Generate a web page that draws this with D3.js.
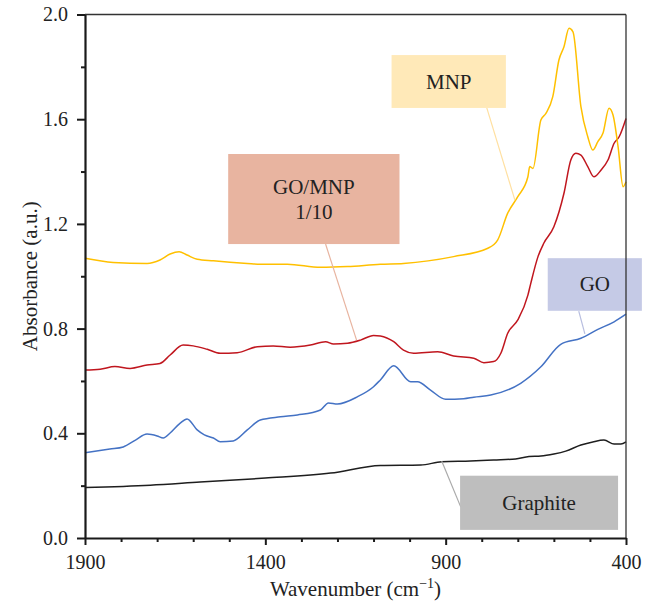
<!DOCTYPE html>
<html>
<head>
<meta charset="utf-8">
<script src="https://cdn.jsdelivr.net/npm/d3@7"></script>
<style>
  body { margin: 0; background: #ffffff; }
  svg text { font-family: "Liberation Serif", "DejaVu Serif", serif !important; fill: #222; }
</style>
</head>
<body>
<svg id="chart" width="654" height="603" style="font-family: 'Liberation Serif', serif"></svg>
<script>
// FTIR spectra: wavenumber (cm^-1) and absorbance (a.u.) per sample
const graphiteWave = [1900,1719,1581,1400,1219,1081,969,911,831,767,706,669,636,600,567,525,492,461,433,414,400];
const graphiteAbs  = [0.193,0.202,0.214,0.229,0.248,0.277,0.279,0.291,0.294,0.298,0.302,0.311,0.313,0.321,0.332,0.355,0.367,0.374,0.359,0.359,0.367];

const goWave = [1900,1831,1794,1760,1728,1700,1683,1664,1636,1617,1589,1569,1544,1525,1489,1450,1414,1358,1311,1247,1225,1200,1144,1100,1081,1044,997,978,942,900,850,822,775,692,636,581,525,478,433,400];
const goAbs  = [0.326,0.340,0.348,0.374,0.397,0.390,0.382,0.401,0.439,0.455,0.413,0.394,0.382,0.368,0.371,0.413,0.451,0.463,0.470,0.489,0.516,0.512,0.540,0.578,0.604,0.658,0.597,0.597,0.565,0.530,0.532,0.538,0.546,0.591,0.654,0.740,0.763,0.797,0.826,0.855];

const goMnpWave = [1900,1858,1817,1775,1728,1692,1664,1628,1600,1561,1525,1478,1422,1378,1331,1275,1233,1211,1172,1136,1100,1081,1044,1017,989,922,878,822,794,767,747,728,700,672,664,644,628,600,572,553,539,525,506,489,469,450,433,419,400];
const goMnpAbs  = [0.642,0.645,0.655,0.648,0.661,0.667,0.699,0.737,0.734,0.721,0.706,0.708,0.731,0.734,0.729,0.737,0.750,0.741,0.744,0.756,0.774,0.772,0.750,0.718,0.706,0.712,0.695,0.687,0.670,0.674,0.706,0.782,0.833,0.928,0.973,1.075,1.126,1.189,1.317,1.444,1.470,1.463,1.419,1.380,1.406,1.444,1.508,1.533,1.603];

const mnpWave = [1900,1822,1728,1692,1664,1639,1617,1589,1544,1450,1414,1339,1247,1172,1081,1017,878,783,756,728,700,672,667,658,636,622,603,586,572,558,547,525,506,492,478,464,447,436,422,408,400];
const mnpAbs  = [1.069,1.053,1.049,1.062,1.085,1.094,1.081,1.065,1.059,1.049,1.046,1.046,1.034,1.037,1.046,1.049,1.075,1.107,1.138,1.241,1.304,1.380,1.419,1.412,1.597,1.622,1.686,1.826,1.877,1.947,1.934,1.648,1.533,1.482,1.514,1.546,1.642,1.616,1.495,1.342,1.361];

const xMajorTicks = [1900, 1400, 900, 400];
const xMinorTicks = [1800,1700,1600,1500,1300,1200,1100,1000,800,700,600,500];
const yMajorTicks = [0, 0.4, 0.8, 1.2, 1.6, 2.0];
const yMinorTicks = [0.2, 0.6, 1.0, 1.4, 1.8];

const series = [
  { name: "Graphite", wave: graphiteWave, abs: graphiteAbs, color: "#1e1e1e" },
  { name: "GO",       wave: goWave,       abs: goAbs,       color: "#4472c4" },
  { name: "GO/MNP",   wave: goMnpWave,    abs: goMnpAbs,    color: "#c0161e" },
  { name: "MNP",      wave: mnpWave,      abs: mnpAbs,      color: "#ffc000" }
];

// Callout boxes, placed in data units: [wave left, wave right, abs top, abs bottom]
const callouts = [
  { lines: ["MNP"],            box: [1050, 733, 1.845, 1.643], leader: [[786, 1.643], [708, 1.291]], fill: "#ffe9b8", stroke: "#ffe0a0" },
  { lines: ["GO/MNP", "1/10"], box: [1503, 1028, 1.467, 1.123], leader: [[1233, 1.123], [1147, 0.756]], fill: "#e8b4a0", stroke: "#e8b4a0" },
  { lines: ["GO"],             box: [617, 356, 1.069, 0.868], leader: [[531, 0.867], [514, 0.780]], fill: "#c5cae6", stroke: "#b8bee0" },
  { lines: ["Graphite"],       box: [860, 422, 0.238, 0.031], leader: [[911, 0.294], [858, 0.118]], fill: "#bebebe", stroke: "#aaaaaa" }
];

const FONT = "'Liberation Serif', 'DejaVu Serif', serif";
const svg = d3.select("#chart");
const plotLeft = 85, plotRight = 626, plotTop = 14.5, plotBottom = 538;

const x = d3.scaleLinear().domain([1900, 400]).range([plotLeft, plotRight]);
const y = d3.scaleLinear().domain([0, 2]).range([plotBottom, plotTop]);

// spectra
const line = d3.line()
  .x(d => x(d[0]))
  .y(d => y(d[1]))
  .curve(d3.curveMonotoneX);

svg.append("g").selectAll("path")
  .data(series)
  .join("path")
  .attr("d", s => line(s.wave.map((w, i) => [w, s.abs[i]])))
  .attr("fill", "none")
  .attr("stroke", s => s.color)
  .attr("stroke-width", 1.5)
  .attr("stroke-linejoin", "round");

// callouts: leader lines, boxes, text
const cg = svg.append("g");
cg.selectAll("line")
  .data(callouts)
  .join("line")
  .attr("x1", c => x(c.leader[0][0])).attr("y1", c => y(c.leader[0][1]))
  .attr("x2", c => x(c.leader[1][0])).attr("y2", c => y(c.leader[1][1]))
  .attr("stroke", c => c.stroke)
  .attr("stroke-width", 1.2);

cg.selectAll("rect")
  .data(callouts)
  .join("rect")
  .attr("x", c => x(c.box[0]))
  .attr("y", c => y(c.box[2]))
  .attr("width", c => x(c.box[1]) - x(c.box[0]))
  .attr("height", c => y(c.box[3]) - y(c.box[2]))
  .attr("fill", c => c.fill);

cg.selectAll("text.callout")
  .data(callouts)
  .join("text")
  .attr("class", "callout")
  .attr("text-anchor", "middle")
  .attr("font-family", FONT)
  .attr("font-size", 21)
  .each(function (c) {
    const cx = (x(c.box[0]) + x(c.box[1])) / 2;
    const cy = (y(c.box[2]) + y(c.box[3])) / 2;
    const n = c.lines.length;
    const lh = 25;
    d3.select(this).selectAll("tspan")
      .data(c.lines)
      .join("tspan")
      .attr("x", cx)
      .attr("y", (d, i) => cy + (i - (n - 1) / 2) * lh + 7)
      .text(d => d);
  });

// frame top and right
svg.append("line")
  .attr("x1", plotLeft).attr("x2", plotRight).attr("y1", plotTop).attr("y2", plotTop)
  .attr("stroke", "#333").attr("stroke-width", 1.3);
svg.append("line")
  .attr("x1", plotRight).attr("x2", plotRight).attr("y1", plotTop).attr("y2", plotBottom)
  .attr("stroke", "#333").attr("stroke-width", 1.3);

// y axis
svg.append("g").attr("transform", `translate(${plotLeft},0)`)
  .call(d3.axisLeft(y).tickValues(yMajorTicks).tickSize(8).tickSizeOuter(0)
    .tickPadding(9).tickFormat(d3.format(".1f")));
svg.append("g").attr("transform", `translate(${plotLeft},0)`)
  .call(d3.axisLeft(y).tickValues(yMinorTicks).tickSize(4).tickSizeOuter(0).tickFormat(""))
  .call(g => g.select(".domain").remove());

// x axis
const xAxis = svg.append("g").attr("transform", `translate(0,${plotBottom})`)
  .call(d3.axisBottom(x).tickValues(xMajorTicks).tickSize(7).tickSizeOuter(0)
    .tickFormat(d3.format("d")));
svg.append("g").attr("transform", `translate(0,${plotBottom})`)
  .call(d3.axisBottom(x).tickValues(xMinorTicks).tickSize(4).tickSizeOuter(0).tickFormat(""))
  .call(g => g.select(".domain").remove());

xAxis.selectAll(".tick text").attr("y", 31).attr("dy", 0);

svg.selectAll("g").attr("font-family", FONT);
svg.selectAll(".domain").attr("stroke", "#1a1a1a").attr("stroke-width", 2.2);
svg.selectAll(".tick line").attr("stroke", "#1a1a1a").attr("stroke-width", 2);
svg.selectAll(".tick text")
  .attr("font-family", FONT)
  .attr("font-size", 20)
  .attr("fill", "#222");

// axis titles
svg.append("text")
  .attr("transform", `translate(30,${(plotTop + plotBottom) / 2}) rotate(-90)`)
  .attr("text-anchor", "middle")
  .attr("dominant-baseline", "central")
  .attr("font-family", FONT)
  .attr("font-size", 21)
  .text("Absorbance (a.u.)");

const xt = svg.append("text")
  .attr("x", (plotLeft + plotRight) / 2)
  .attr("y", 596)
  .attr("text-anchor", "middle")
  .attr("font-family", FONT)
  .attr("font-size", 21);
xt.append("tspan").text("Wavenumber (cm");
xt.append("tspan").attr("dy", -8).attr("font-size", 14).text("\u22121");
xt.append("tspan").attr("dy", 8).text(")");
</script>
</body>
</html>
